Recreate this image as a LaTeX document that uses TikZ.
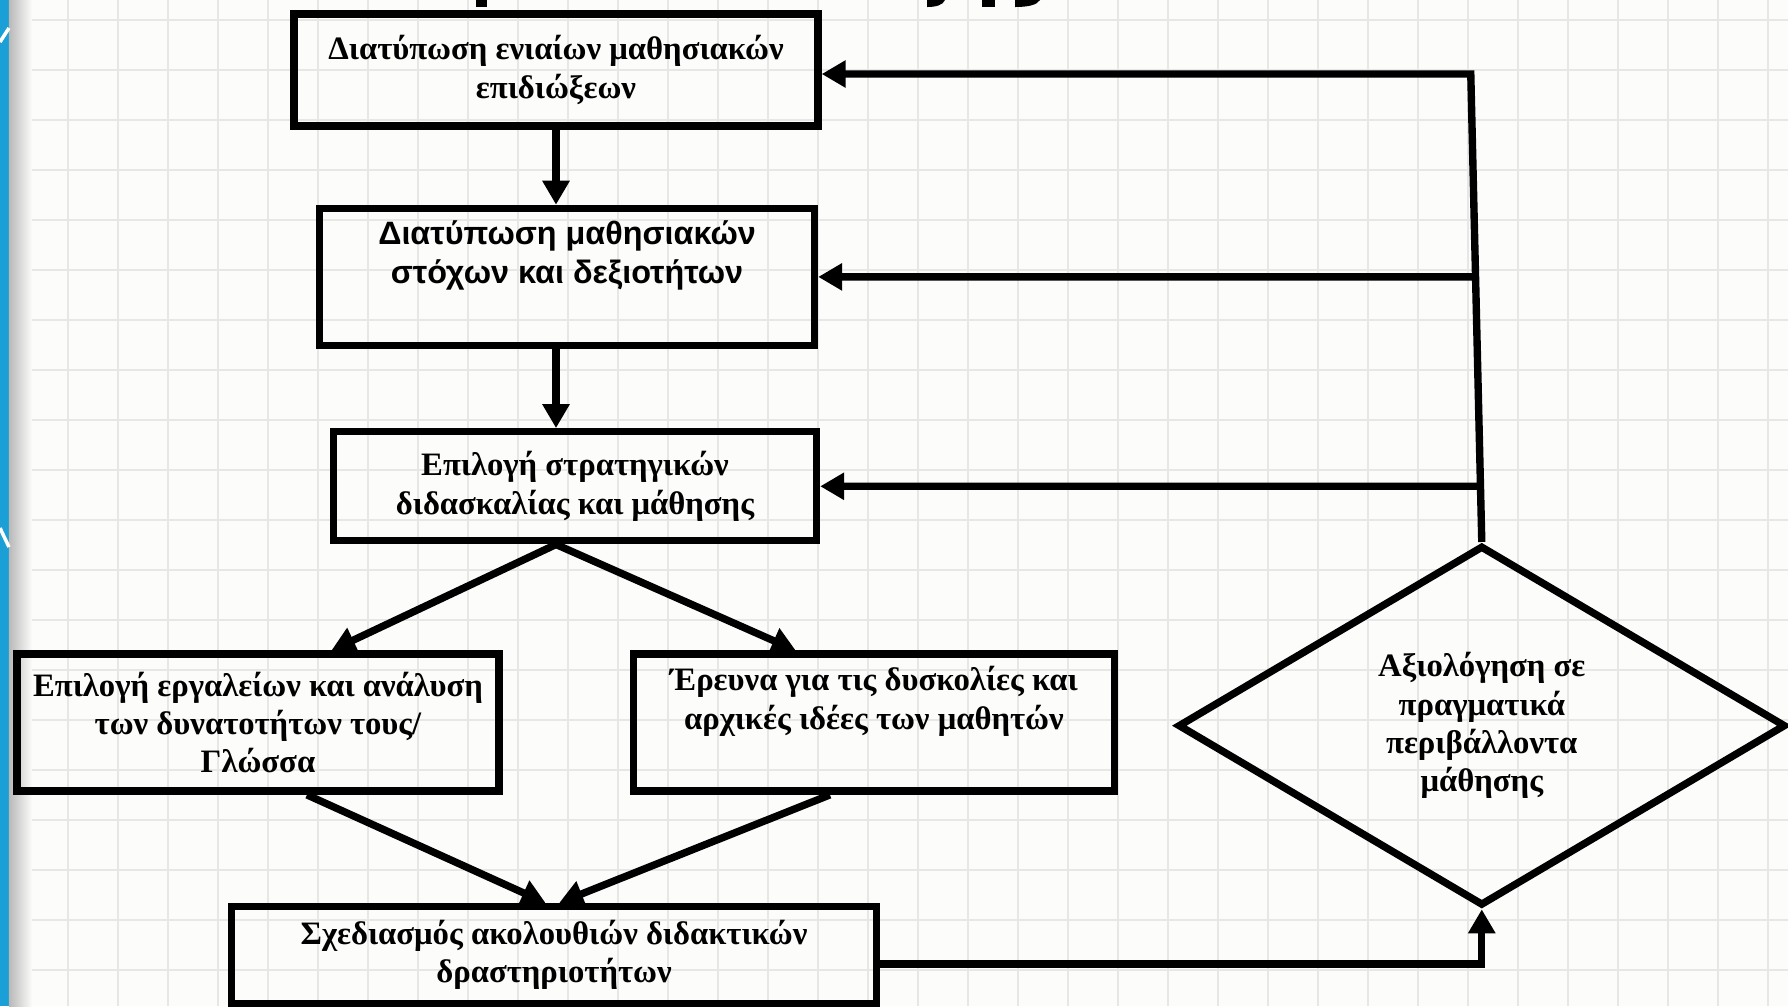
\documentclass[tikz,border=0pt]{standalone}
\usepackage{fontspec}
\setmainfont{Liberation Serif}
\newfontfamily\sansgr{Liberation Sans}
\usetikzlibrary{positioning,shapes.geometric,arrows.meta,calc}

\definecolor{paper}{HTML}{FCFCFA}
\definecolor{gridgray}{HTML}{E7E7E5}
\definecolor{stripblue}{HTML}{1AA0D6}

\begin{document}
\begin{tikzpicture}
          \tikzset{box/.style = {draw, line width=2.1pt, align=center, inner sep=0pt,
                                 font=\bfseries\fontsize{9.3}{10.9}\selectfont}}
          \tikzset{decision/.style = {box, diamond, aspect=1.71, minimum width=6.08cm, minimum height=3.6cm}}
          \tikzset{flow/.style = {line width=2.1pt, ->, >={Triangle[length=2.4mm,width=2.6mm]}}}

          \useasboundingbox (0,0) rectangle (17.88,-10.06);
          \fill[paper] (0,0) rectangle (17.88,-10.06);
          \begin{scope}[shift={(0.18,-0.2)}]
            \draw[gridgray, line width=0.6pt, step=0.5] (-0.18,0.2) grid (17.70,-9.86);
          \end{scope}
          \fill[stripblue] (0,0) rectangle (0.09,-10.06);
          \shade[left color=gray!55, right color=paper] (0.09,0) rectangle (0.32,-10.06);
          \draw[white, line width=1pt] (0,-0.42) -- (0.09,-0.28);
          \draw[white, line width=1pt] (0,-5.28) -- (0.09,-5.47);

          % bits of the cut-off heading
          \fill (4.76,0) rectangle (4.87,-0.07);
          \fill (9.27,0) -- (9.45,0) .. controls (9.43,-0.05) and (9.36,-0.07) .. (9.27,-0.07) -- cycle;
          \fill (9.82,0) rectangle (9.95,-0.07);
          \fill (10.15,0) -- (10.40,0) .. controls (10.37,-0.05) and (10.28,-0.07) .. (10.15,-0.07) -- cycle;

          \node[box, minimum width=5.24cm, minimum height=1.12cm] (obj) at (5.56,-0.7)
               {Διατύπωση ενιαίων μαθησιακών\\ επιδιώξεων};
          \node[box, font=\sansgr\bfseries\fontsize{9.2}{10.9}\selectfont,
                minimum width=4.95cm, minimum height=1.37cm, below=0.75cm of obj, xshift=0.11cm] (goals)
               {Διατύπωση μαθησιακών\\ στόχων και δεξιοτήτων\\ \strut};
          \node[box, minimum width=4.83cm, minimum height=1.09cm, below=0.79cm of goals, xshift=0.08cm] (strat)
               {Επιλογή στρατηγικών\\ διδασκαλίας και μάθησης};
          \node[box, minimum width=4.82cm, minimum height=1.37cm, below=1.06cm of strat, xshift=-3.17cm] (tools)
               {Επιλογή εργαλείων και ανάλυση\\ των δυνατοτήτων τους/\\ Γλώσσα};
          \node[box, minimum width=4.81cm, minimum height=1.37cm, right=1.27cm of tools] (ideas)
               {Έρευνα για τις δυσκολίες και\\ αρχικές ιδέες των μαθητών\\ \strut};
          \node[box, minimum width=6.45cm, minimum height=0.97cm, below=1.08cm of tools, xshift=2.96cm] (design)
               {Σχεδιασμός ακολουθιών διδακτικών\\ δραστηριοτήτων};
          \node[decision, right=0.56cm of ideas, yshift=-0.03cm] (eval)
               {Αξιολόγηση σε\\ πραγματικά\\ περιβάλλοντα\\ μάθησης};

          \draw[flow] (obj.south) -- (obj.south |- goals.north);
          \draw[flow] (obj.south |- goals.south) -- (obj.south |- strat.north);
          \coordinate (split) at (obj.south |- strat.south);
          \draw[flow] (split) -- ($(tools.north west)!0.65!(tools.north east)$);
          \draw[flow] (split) -- ($(ideas.north west)!0.34!(ideas.north east)$);
          \draw[flow] ($(tools.south west)!0.6!(tools.south east)$) -- ($(design.north west)!0.487!(design.north east)$);
          \draw[flow] ($(ideas.south west)!0.41!(ideas.south east)$) -- ($(design.north west)!0.508!(design.north east)$);
          \draw[flow] ([yshift=-0.09cm]design.east) -| (eval.south);

          \coordinate (loop) at ($([yshift=-0.04cm]obj.east -| eval.north)+(-0.11,0)$);
          \draw[flow] (eval.north) -- (loop) -- ([yshift=-0.04cm]obj.east);
          \coordinate (loopb) at (intersection of eval.north--loop and goals.east--goals.west);
          \coordinate (loopc) at (intersection of eval.north--loop and strat.east--strat.west);
          \draw[flow] (loopb) -- (goals.east);
          \draw[flow] (loopc) -- (strat.east);
        \end{tikzpicture}
\end{document}
